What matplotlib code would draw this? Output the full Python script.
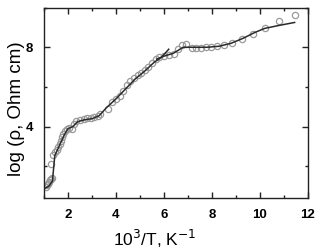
import matplotlib
matplotlib.use("Agg")
import matplotlib.pyplot as plt
from matplotlib.ticker import MultipleLocator

plt.rcParams['font.family'] = ['Liberation Sans', 'DejaVu Sans']

# experimental points
pts_x = [1.08, 1.12, 1.18, 1.22, 1.26, 1.30, 1.35, 1.30, 1.38, 1.45, 1.55, 1.60, 1.65, 1.70,
         1.75, 1.80, 1.88, 1.95, 2.05, 2.15, 2.25, 2.35, 2.50, 2.65, 2.80, 2.95, 3.10, 3.25,
         3.35, 3.65, 3.85, 4.00, 4.15, 4.30, 4.45, 4.60, 4.75, 4.90, 5.05, 5.20, 5.35, 5.50,
         5.65, 5.80, 6.00, 6.20, 6.40, 6.60, 6.75, 6.90, 7.15, 7.35, 7.55, 7.75, 7.95, 8.20,
         8.50, 8.85, 9.25, 9.70, 10.20, 10.80, 11.45]
pts_y = [0.95, 1.05, 1.10, 1.20, 1.30, 1.35, 1.40, 2.10, 2.55, 2.70, 2.80, 2.95, 3.10, 3.30,
         3.50, 3.65, 3.80, 3.90, 3.95, 3.90, 4.15, 4.30, 4.35, 4.40, 4.42, 4.45, 4.50, 4.55,
         4.62, 4.90, 5.25, 5.40, 5.55, 5.80, 6.10, 6.30, 6.45, 6.60, 6.70, 6.85, 7.00, 7.20,
         7.40, 7.50, 7.55, 7.60, 7.65, 7.90, 8.10, 8.15, 7.95, 7.95, 7.95, 8.00, 8.00, 8.05,
         8.10, 8.20, 8.40, 8.65, 8.95, 9.30, 9.62]

# fit curves
fit1_x = [1.05, 1.20, 1.35, 1.45, 1.55, 1.70, 1.85, 2.00, 2.20, 2.40, 2.70, 3.00, 3.30, 3.60,
          4.00, 4.40, 4.80, 5.20, 5.60, 5.90, 6.20]
fit1_y = [0.90, 1.00, 1.25, 2.55, 2.80, 3.20, 3.60, 3.90, 4.00, 4.25, 4.35, 4.40, 4.55, 4.95,
          5.40, 5.90, 6.40, 6.80, 7.25, 7.50, 7.90]
fit2_x = [5.70, 6.00, 6.40, 6.80, 7.20, 7.80, 8.30, 8.80, 9.30, 9.80, 10.20, 10.80, 11.45]
fit2_y = [7.40, 7.55, 7.70, 8.00, 8.00, 8.00, 8.05, 8.20, 8.45, 8.75, 8.95, 9.10, 9.25]

xticks = [2, 4, 6, 8, 10, 12]
yticks = [4, 8]

fig = plt.figure(figsize=(3.31, 2.52), dpi=100)
ax = fig.add_axes([0.133, 0.214, 0.797, 0.756])

ax.plot(pts_x, pts_y, 'o', ms=4.5, mfc='none', mec='#9a9a9a', mew=0.9)
ax.plot(fit1_x, fit1_y, '-', color='#2a2a2a', lw=1.1)
ax.plot(fit2_x, fit2_y, '-', color='#2a2a2a', lw=1.1)

ax.set_xlim(1, 12)
ax.set_ylim(0.4, 10)
ax.set_xticks(xticks)
ax.set_yticks(yticks)
ax.xaxis.set_minor_locator(MultipleLocator(1))
ax.yaxis.set_minor_locator(MultipleLocator(2))
ax.tick_params(which='both', direction='in', top=True, right=True, color='#222222')
ax.tick_params(which='major', length=4, width=1)
ax.tick_params(which='minor', length=2.5, width=1)
ax.tick_params(axis='x', which='major', pad=8)
ax.tick_params(axis='y', which='major', pad=8)
for lab in ax.get_xticklabels() + ax.get_yticklabels():
    lab.set_fontweight('bold')
    lab.set_fontsize(9.5)
for s in ax.spines.values():
    s.set_linewidth(1)
    s.set_color('#222222')

ax.set_xlabel('10$^3$/T, K$^{-1}$', fontsize=12.5)
ax.xaxis.set_label_coords(0.42, -0.252)
ax.xaxis.label.set_va('baseline')
ax.set_ylabel('log (ρ, Ohm cm)', fontsize=13.5)
ax.yaxis.set_label_coords(-0.072, 0.47)

fig.savefig('out.png', dpi=100)
